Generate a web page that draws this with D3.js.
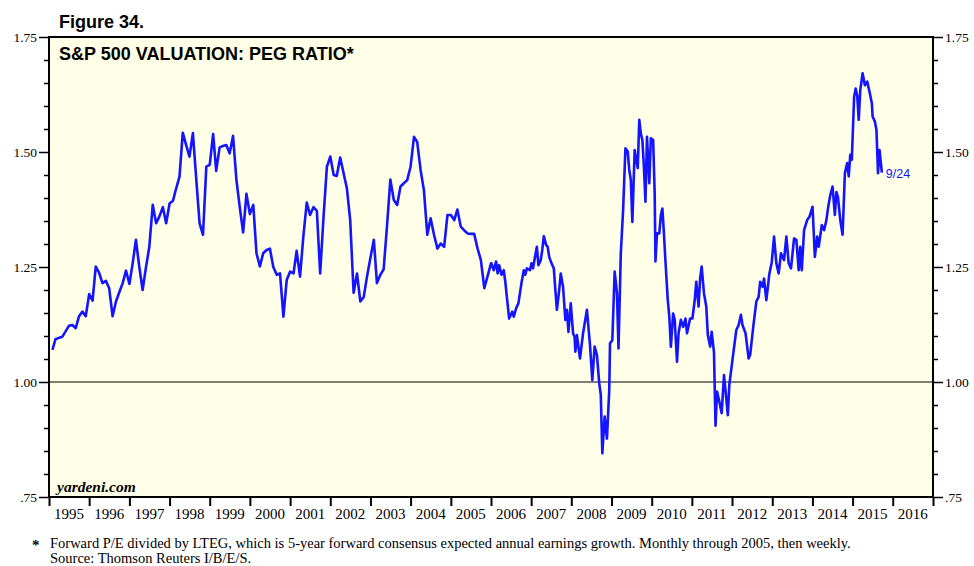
<!DOCTYPE html>
<html>
<head>
<meta charset="UTF-8">
<title>S&amp;P 500 Valuation: PEG Ratio</title>
<style>
  body { margin: 0; background: #fff; }
  svg text { font-family: "Liberation Serif", "Times New Roman", serif; fill: #000; }
  .hdr { font-family: "Liberation Sans", Arial, sans-serif !important; font-weight: bold; }
  .axis path { display: none; }
  .axis line { stroke: #000; }
</style>
<script src="https://cdn.jsdelivr.net/npm/d3@7"></script>
</head>
<body>
<svg width="974" height="566"></svg>
<script>
// monthly PEG ratio, Jan 1995 .. Dec 2005
var monthlyPeg = [
  1.070, 1.093, 1.096, 1.098, 1.110, 1.122, 1.124, 1.117, 1.143, 1.153, 1.143, 1.191,
  1.177, 1.251, 1.237, 1.215, 1.220, 1.204, 1.143, 1.175, 1.195, 1.215, 1.242, 1.213,
  1.260, 1.309, 1.250, 1.200, 1.250, 1.294, 1.385, 1.345, 1.360, 1.380, 1.345, 1.388,
  1.394, 1.420, 1.446, 1.542, 1.515, 1.490, 1.541, 1.440, 1.345, 1.320, 1.468, 1.472,
  1.539, 1.459, 1.510, 1.513, 1.515, 1.497, 1.535, 1.439, 1.380, 1.325, 1.409, 1.365,
  1.385, 1.280, 1.251, 1.280, 1.287, 1.290, 1.250, 1.233, 1.236, 1.142, 1.222, 1.240,
  1.236, 1.285, 1.229, 1.316, 1.390, 1.363, 1.380, 1.372, 1.236, 1.360, 1.468, 1.490,
  1.450, 1.448, 1.488, 1.455, 1.421, 1.352, 1.194, 1.236, 1.175, 1.185, 1.229, 1.270,
  1.309, 1.215, 1.233, 1.245, 1.340, 1.440, 1.396, 1.385, 1.425, 1.432, 1.439, 1.468,
  1.533, 1.522, 1.461, 1.417, 1.320, 1.356, 1.320, 1.290, 1.301, 1.294, 1.363, 1.363,
  1.352, 1.375, 1.338, 1.330, 1.323, 1.322, 1.322, 1.290, 1.265, 1.204, 1.230, 1.258
];

// weekly readings from 2006: week number counted from Thu 2006-01-05
var weekNo = [
  0, 3, 6, 8, 10, 13, 16, 18, 20, 23, 27, 29, 32, 35, 39, 42, 44, 46, 50, 52,
  54, 57, 59, 61, 64, 66, 68, 71, 73, 75, 78, 81, 83, 85, 88, 90, 93, 96, 98, 100,
  103, 106, 108, 109, 111, 115, 119, 124, 128, 131, 134, 137, 140, 142, 144, 147, 150, 153, 154, 157,
  160, 163, 165, 168, 171, 174, 177, 179, 181, 183, 186, 188, 190, 192, 194, 196, 198, 200, 202, 205,
  207, 210, 212, 213, 215, 218, 220, 222, 224, 226, 229, 231, 233, 236, 238, 241, 243, 246, 249, 252,
  254, 258, 261, 264, 266, 269, 271, 273, 276, 279, 281, 284, 286, 289, 291, 293, 296, 299, 302, 304,
  307, 309, 313, 318, 321, 324, 326, 330, 334, 336, 340, 344, 347, 349, 352, 354, 357, 361, 364, 367,
  370, 373, 376, 380, 383, 386, 389, 393, 396, 399, 401, 403, 406, 410, 413, 417, 420, 423, 425, 429,
  432, 435, 437, 440, 443, 446, 448, 450, 453, 456, 459, 462, 464, 466, 468, 471, 473, 475, 477, 479,
  482, 485, 488, 491, 494, 495, 498, 500, 502, 504, 507
];
var weeklyPeg = [
  1.258, 1.243, 1.262, 1.236, 1.254, 1.233, 1.243, 1.218, 1.185, 1.138, 1.153, 1.142, 1.160, 1.171, 1.215, 1.243, 1.233, 1.247, 1.243, 1.258,
  1.247, 1.276, 1.294, 1.254, 1.265, 1.287, 1.317, 1.298, 1.294, 1.272, 1.258, 1.247, 1.200, 1.157, 1.200, 1.236, 1.207, 1.135, 1.157, 1.109,
  1.171, 1.106, 1.098, 1.066, 1.102, 1.051, 1.106, 1.157, 1.080, 1.004, 1.077, 1.059, 0.997, 0.972, 0.845, 0.925, 0.877, 0.983, 1.084, 1.091,
  1.240, 1.193, 1.073, 1.280, 1.374, 1.508, 1.501, 1.461, 1.439, 1.348, 1.504, 1.483, 1.465, 1.570, 1.540, 1.526, 1.468, 1.392, 1.533, 1.432,
  1.530, 1.526, 1.410, 1.262, 1.323, 1.323, 1.363, 1.377, 1.323, 1.262, 1.178, 1.142, 1.077, 1.149, 1.135, 1.044, 1.106, 1.135, 1.120, 1.138,
  1.106, 1.138, 1.138, 1.178, 1.218, 1.164, 1.225, 1.251, 1.193, 1.164, 1.102, 1.077, 1.109, 1.065, 0.905, 0.979, 0.957, 0.932, 1.015, 0.981,
  0.928, 0.995, 1.048, 1.113, 1.124, 1.146, 1.124, 1.106, 1.051, 1.059, 1.120, 1.175, 1.185, 1.218, 1.207, 1.225, 1.178, 1.236, 1.260, 1.316,
  1.258, 1.236, 1.280, 1.265, 1.316, 1.258, 1.247, 1.312, 1.309, 1.243, 1.294, 1.243, 1.330, 1.352, 1.359, 1.381, 1.272, 1.316, 1.294, 1.341,
  1.330, 1.352, 1.377, 1.406, 1.425, 1.363, 1.413, 1.402, 1.352, 1.320, 1.454, 1.476, 1.447, 1.494, 1.483, 1.620, 1.638, 1.623, 1.570, 1.635,
  1.671, 1.645, 1.653, 1.631, 1.606, 1.577, 1.566, 1.548, 1.454, 1.504, 1.455
];

var firstYear = 1995, lastYear = 2016;
var yMajor = [0.75, 1.00, 1.25, 1.50, 1.75];
var yMinor = [0.80, 0.85, 0.90, 0.95, 1.05, 1.10, 1.15, 1.20, 1.30, 1.35, 1.40, 1.45, 1.55, 1.60, 1.65, 1.70];
var lastLabel = "9/24";

(function () {
var svg = d3.select("svg");
var pLeft = 49, pRight = 933, pTop = 37, pBottom = 497;

var x = d3.scaleTime()
    .domain([new Date(firstYear, 0, 1), new Date(lastYear + 1, 0, 1)])
    .range([pLeft, pRight]);
var y = d3.scaleLinear().domain([0.75, 1.75]).range([pBottom, pTop]);

// build the series: monthly points sit at month end, weekly points on their date
var series = monthlyPeg.map((v, i) => ({date: new Date(firstYear, i + 1, 1), v: v}));
var wk0 = new Date(2006, 0, 5);
weekNo.forEach((w, i) => series.push({date: d3.timeDay.offset(wk0, w * 7), v: weeklyPeg[i]}));

// plot background
svg.append("rect")
    .attr("x", pLeft).attr("y", pTop)
    .attr("width", pRight - pLeft).attr("height", pBottom - pTop)
    .attr("fill", "#fffee6");

var fmt = d => d < 1 ? ".75" : d3.format(".2f")(d);

// left axis
svg.append("g").attr("class", "axis").attr("transform", "translate(" + pLeft + ",0)")
    .call(d3.axisLeft(y).tickValues(yMinor).tickSize(5).tickFormat(""))
    .selectAll("line").attr("stroke-width", 1.5);
var la = svg.append("g").attr("class", "axis").attr("transform", "translate(" + pLeft + ",0)")
    .call(d3.axisLeft(y).tickValues(yMajor).tickSize(10).tickPadding(2).tickFormat(fmt));
la.selectAll("line").attr("stroke-width", 1.5);
la.selectAll("text").style("font-size", "13.5px").style("font-family", "Liberation Serif");

// right axis
svg.append("g").attr("class", "axis").attr("transform", "translate(" + pRight + ",0)")
    .call(d3.axisRight(y).tickValues(yMinor).tickSize(5).tickFormat(""))
    .selectAll("line").attr("stroke-width", 1.5);
var ra = svg.append("g").attr("class", "axis").attr("transform", "translate(" + pRight + ",0)")
    .call(d3.axisRight(y).tickValues(yMajor).tickSize(10).tickPadding(2).tickFormat(fmt));
ra.selectAll("line").attr("stroke-width", 1.5);
ra.selectAll("text").style("font-size", "13.5px").style("font-family", "Liberation Serif");

// year ticks at boundaries, labels centred in each year
var yearEdges = d3.range(firstYear, lastYear + 2).map(yr => new Date(yr, 0, 1));
svg.append("g").attr("class", "axis").attr("transform", "translate(0," + pBottom + ")")
    .call(d3.axisBottom(x).tickValues(yearEdges).tickSize(9).tickFormat(""))
    .selectAll("line").attr("stroke-width", 2);
svg.append("g").selectAll("text")
    .data(d3.range(firstYear, lastYear + 1))
    .join("text")
    .attr("x", d => x(new Date(d, 6, 2)))
    .attr("y", 519)
    .attr("text-anchor", "middle")
    .style("font-size", "15px")
    .text(d => d);

// 1.00 reference line
svg.append("line")
    .attr("x1", pLeft).attr("x2", pRight)
    .attr("y1", y(1)).attr("y2", y(1))
    .attr("stroke", "#000").attr("stroke-width", 1.2);

// the PEG line
svg.append("path")
    .datum(series)
    .attr("fill", "none")
    .attr("stroke", "#1414ff")
    .attr("stroke-width", 2.6)
    .attr("stroke-linejoin", "round")
    .attr("d", d3.line().x(d => x(d.date)).y(d => y(d.v)));

var last = series[series.length - 1];
svg.append("text")
    .attr("class", "hdr")
    .attr("x", x(last.date) + 4).attr("y", y(last.v) + 5)
    .style("font-weight", "normal")
    .style("font-size", "12.5px")
    .style("fill", "#1414ff")
    .text(lastLabel);

// frame
svg.append("rect")
    .attr("x", pLeft).attr("y", pTop)
    .attr("width", pRight - pLeft).attr("height", pBottom - pTop)
    .attr("fill", "none").attr("stroke", "#000").attr("stroke-width", 2);

// titles
svg.append("text").attr("class", "hdr")
    .attr("x", 59).attr("y", 28)
    .style("font-size", "18px")
    .text("Figure 34.");
svg.append("text").attr("class", "hdr")
    .attr("x", 59).attr("y", 60)
    .style("font-size", "18px")
    .text("S&P 500 VALUATION: PEG RATIO*");
svg.append("text")
    .attr("x", 57).attr("y", 492)
    .style("font-size", "15.5px")
    .style("font-weight", "bold")
    .style("font-style", "italic")
    .text("yardeni.com");

// footnote
svg.append("text").attr("x", 32).attr("y", 550)
    .style("font-size", "15px").style("font-weight", "bold").text("*");
svg.append("text").attr("x", 50).attr("y", 548)
    .style("font-size", "14.5px")
    .text("Forward P/E divided by LTEG, which is 5-year forward consensus expected annual earnings growth. Monthly through 2005, then weekly.");
svg.append("text").attr("x", 50).attr("y", 563)
    .style("font-size", "14.5px")
    .text("Source: Thomson Reuters I/B/E/S.");
})();
</script>
</body>
</html>
